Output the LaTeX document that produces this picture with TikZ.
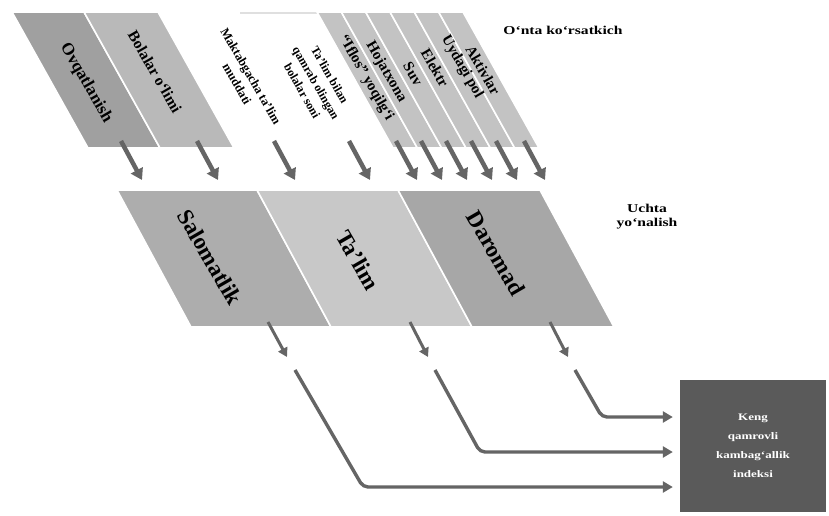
\documentclass[tikz,border=0pt]{standalone}
\usepackage{fontspec}
\setmainfont{Liberation Serif}
\newfontfamily\widefont[FakeStretch=1.3]{Liberation Serif}
\usetikzlibrary{arrows.meta}
\definecolor{gA}{HTML}{A0A0A0}
\definecolor{gB}{HTML}{B9B9B9}
\definecolor{gS}{HTML}{C3C3C3}
\definecolor{gM1}{HTML}{ADADAD}
\definecolor{gM2}{HTML}{C8C8C8}
\definecolor{gM3}{HTML}{A7A7A7}
\definecolor{gArr}{HTML}{656565}
\definecolor{gBox}{HTML}{5A5A5A}
\newcommand\plg[6]{\filldraw[fill=#1,draw=white,line width=1.6pt]
  ({#2},{#4}) -- ({#3},{#4}) -- ({#3+#6},{#5}) -- ({#2+#6},{#5}) -- cycle;}
\tikzset{
  rtxt/.style={rotate=-60,inner sep=0pt,align=center,font=\bfseries\fontsize{#1}{#1}\selectfont},
  rblock/.style={rotate=-60,inner sep=0pt,align=center,font=\bfseries\fontsize{#1}{16}\selectfont},
  htxt/.style={inner sep=0pt,align=center,font=\widefont\bfseries\fontsize{#1}{#1}\selectfont},
  toparrow/.style={draw=gArr,line width=4.5pt,-{Triangle[length=11pt,width=13pt]}},
  midarrow/.style={draw=gArr,line width=3pt,-{Triangle[length=9pt,width=10pt]}},
  longarrow/.style={draw=gArr,line width=3.4pt,rounded corners=5pt,-{Triangle[length=10pt,width=11pt]},shorten >=7pt},
}
\begin{document}
\begin{tikzpicture}[x=1pt,y=-1pt]
\useasboundingbox[fill=white] (0,0) rectangle (829,515);
% ---- top row: ten indicators
\plg{gA}{12}{84}{12}{148}{76}
\plg{gB}{84}{158}{12}{148}{76}
\draw[gray!25,line width=1.5pt] (240,13) -- (317,13);
\foreach \i in {0,...,5}{
  \plg{gS}{317+24.33*\i}{317+24.33*(\i+1)}{12}{148}{76}
}
\node[rtxt=17] (t1) at (86,83) {Ovqatlanish};
\node[rtxt=15.5] (t2) at (155,72) {Bolalar o‘limi};
\node[rblock=12.5] (t3) at (244,80) {Maktabgacha ta’lim\\muddati};
\node[rblock=12] (t4) at (316,83) {Ta’lim bilan\\qamrab olingan\\bolalar soni};
\node[rtxt=15] (t5) at (366,78) {“Iflos” yoqilg‘i};
\node[rtxt=15] (t6) at (386,72) {Hojatxona};
\node[rtxt=15] (t7) at (413,74) {Suv};
\node[rtxt=15] (t8) at (435,68) {Elektr};
\node[rtxt=15] (t9) at (462,67) {Uydagi pol};
\node[rtxt=15] (t10) at (483,70) {Aktivlar};
\node[htxt=12] (ten) at (563,30) {O‘nta ko‘rsatkich};
% ---- arrows from indicators
\foreach \e [count=\k] in {142,218,295,370,417,442,467,492,517,545}{
  \coordinate (as\k) at ({\e-21},141);
  \coordinate (ae\k) at (\e,180);
  \draw[toparrow] (as\k) -- (ae\k);
}
% ---- middle row: three dimensions
\plg{gM1}{117}{257}{190}{327}{74}
\plg{gM2}{257}{398}{190}{327}{74}
\plg{gM3}{398}{540}{190}{327}{74}
\node[rtxt=23] (d1) at (210,257) {Salomatlik};
\node[rtxt=23] (d2) at (358,260) {Ta’lim};
\node[rtxt=23] (d3) at (496,253) {Daromad};
\node[htxt=12] (three) at (647,217) {Uchta\\[2pt]yo‘nalish};
% ---- short arrows below dimensions
\coordinate (ms1) at (268,322); \coordinate (me1) at (287,357);
\coordinate (ms2) at (410,322); \coordinate (me2) at (428,357);
\coordinate (ms3) at (550,322); \coordinate (me3) at (568,357);
\draw[midarrow] (ms1) -- (me1);
\draw[midarrow] (ms2) -- (me2);
\draw[midarrow] (ms3) -- (me3);
% ---- index box
\node[fill=gBox,minimum width=146pt,minimum height=132pt,inner sep=0pt,
      text=white,align=center,font=\widefont\bfseries\fontsize{10}{19}\selectfont]
      (kki) at (753,446) {Keng\\qamrovli\\kambag‘allik\\indeksi};
% ---- long connectors
\coordinate (ls1) at (295,370); \coordinate (lb1) at (363,487);
\coordinate (ls2) at (435,370); \coordinate (lb2) at (480,452);
\coordinate (ls3) at (575,370); \coordinate (lb3) at (602,417);
\draw[longarrow] (ls1) -- (lb1) -- (lb1 -| kki.west);
\draw[longarrow] (ls2) -- (lb2) -- (lb2 -| kki.west);
\draw[longarrow] (ls3) -- (lb3) -- (lb3 -| kki.west);
\end{tikzpicture}
\end{document}
